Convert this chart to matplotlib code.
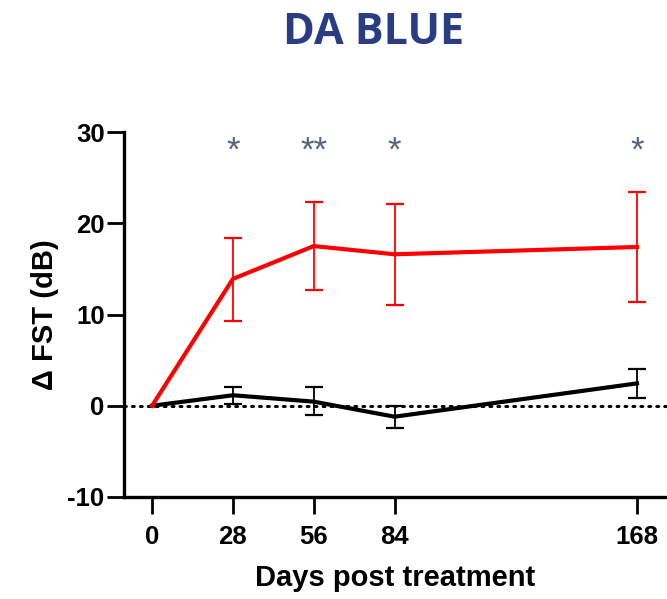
"""DA BLUE: change in FST over days post treatment, two groups with SEM bars."""

import matplotlib
matplotlib.use("Agg")
import matplotlib.pyplot as plt

days = [0, 28, 56, 84, 168]

treated = [0.0, 13.9, 17.5, 16.6, 17.4]
treated_lo = [0.0, 9.3, 12.7, 11.0, 11.4]
treated_hi = [0.0, 18.4, 22.3, 22.1, 23.4]

control = [0.0, 1.15, 0.45, -1.2, 2.45]
control_lo = [0.0, 0.2, -1.0, -2.4, 0.9]
control_hi = [0.0, 2.1, 2.0, 0.0, 4.05]

stars = ["", "*", "**", "*", "*"]
star_y = 27.9

xticks = [0, 28, 56, 84, 168]
yticks = [-10, 0, 10, 20, 30]

STAR_COLOR = "#56657F"
TITLE_COLOR = "#2A3C83"

plt.rcParams["font.family"] = ["Liberation Sans", "DejaVu Sans"]
plt.rcParams["axes.unicode_minus"] = False

fig = plt.figure(figsize=(6.67, 5.99), dpi=100)
ax = fig.add_axes([0.186, 0.1703, 0.814, 0.6093])

ax.axhline(0, color="black", lw=2.2, linestyle=(0, (0.6, 2.0)),
           dash_capstyle="round", zorder=1)


def draw(vals, lo, hi, color):
    yerr = [[v - l for v, l in zip(vals, lo)], [h - v for v, h in zip(vals, hi)]]
    # only the later time points carry error bars
    ax.errorbar(days[1:], vals[1:], yerr=[yerr[0][1:], yerr[1][1:]], fmt="none",
                ecolor=color, elinewidth=1.3, capsize=6.5, capthick=1.6, zorder=2)
    ax.plot(days, vals, color=color, lw=3.0, solid_joinstyle="round", zorder=3)


draw(control, control_lo, control_hi, "black")
draw(treated, treated_lo, treated_hi, "#FF0000")

for d, s in zip(days, stars):
    if s:
        ax.text(d, star_y, s, ha="center", va="center", fontsize=25,
                color=STAR_COLOR)

ax.set_xlim(-9.7, 178.4)
ax.set_ylim(-10, 30)
ax.set_xticks(xticks)
ax.set_yticks(yticks)
ax.tick_params(axis="both", length=12, width=2, labelsize=18.5)
ax.tick_params(axis="x", pad=8)
ax.tick_params(axis="y", pad=2)
for lab in ax.get_xticklabels() + ax.get_yticklabels():
    lab.set_fontweight("bold")

for side in ("top", "right"):
    ax.spines[side].set_visible(False)
for side in ("left", "bottom"):
    ax.spines[side].set_linewidth(2.4)

ax.set_xlabel("Days post treatment", fontsize=21, fontweight="bold", labelpad=11)
ax.set_ylabel("Δ FST (dB)", fontsize=21, fontweight="bold", labelpad=6)

fig.text(0.56, 0.946, "DA BLUE", ha="center", va="center", fontsize=31,
         fontweight="bold", color=TITLE_COLOR, family="Open Sans")

fig.savefig("out.png", dpi=100)
